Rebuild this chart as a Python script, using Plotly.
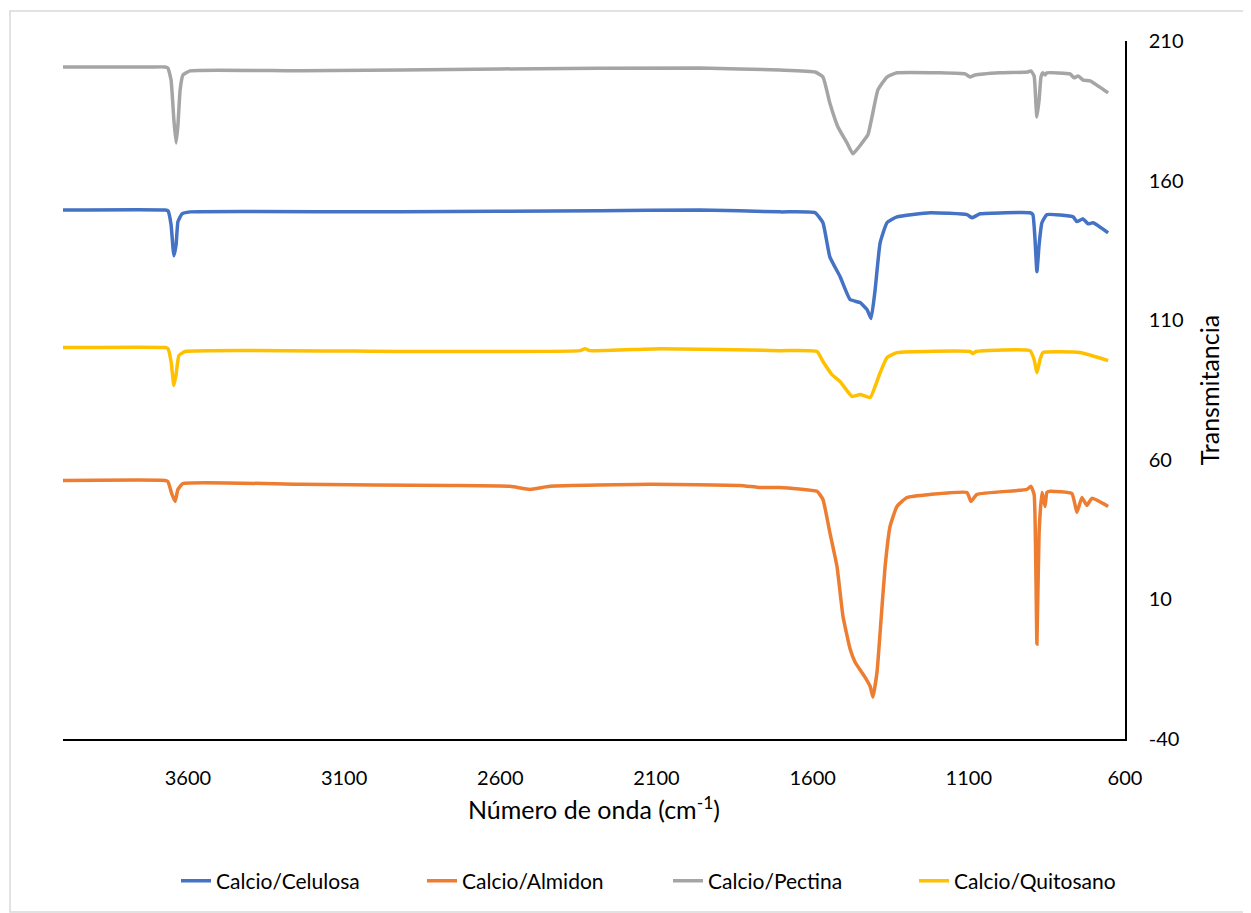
import plotly.graph_objects as go

# ---- data (wavenumber cm-1, transmittance) ----
pectina_wn = [4000, 3721, 3673, 3664, 3654, 3645, 3638, 3632, 3625, 3616, 3593, 3241, 2601, 1961, 1705,
              1592, 1567, 1545, 1519, 1490, 1471, 1442, 1423, 1410, 1391, 1362, 1330, 1192, 1112, 1096,
              1080, 1000, 911, 901, 891, 885, 882, 875, 869, 863, 856, 850, 776, 763, 750, 734, 712, 654]
pectina_t = [200.7, 200.7, 200.7, 200.3, 196.0, 181.7, 173.5, 180.0, 192.5, 197.8, 199.3, 199.3, 200.0,
             200.3, 199.6, 198.9, 197.1, 187.8, 179.2, 173.5, 169.6, 173.5, 176.4, 182.8, 192.5, 197.1,
             198.6, 198.6, 198.2, 197.1, 197.8, 198.6, 198.9, 199.3, 197.5, 187.1, 182.8, 188.9, 197.1,
             198.6, 197.8, 198.6, 198.2, 196.8, 197.5, 196.0, 195.7, 191.4]

celulosa_wn = [4000, 3673, 3664, 3654, 3648, 3645, 3638, 3632, 3619, 3593, 2921, 2281, 1961, 1705, 1592,
               1567, 1545, 1512, 1480, 1448, 1426, 1413, 1400, 1384, 1362, 1330, 1224, 1106, 1090, 1064,
               904, 895, 888, 882, 875, 866, 850, 766, 754, 734, 718, 702, 654]
celulosa_t = [149.5, 149.5, 149.2, 144.2, 136.0, 133.1, 137.0, 145.3, 148.1, 148.8, 148.8, 149.2, 149.5,
              148.8, 148.5, 144.9, 132.7, 125.6, 117.4, 116.3, 113.8, 110.6, 120.9, 137.7, 144.9, 147.0,
              148.5, 147.8, 146.7, 148.1, 148.5, 147.8, 138.8, 127.4, 137.0, 144.9, 147.8, 147.0, 145.3,
              146.3, 144.5, 144.9, 141.3]

quitosano_wn = [4000, 3673, 3664, 3654, 3645, 3638, 3629, 3609, 2921, 2345, 2329, 2313, 2089, 1705, 1586,
                1567, 1538, 1512, 1474, 1448, 1416, 1384, 1362, 1330, 1096, 1087, 1077, 904, 891, 882,
                872, 863, 744, 654]
quitosano_t = [100.2, 100.2, 99.8, 95.2, 86.6, 90.5, 97.3, 98.8, 98.8, 99.1, 99.8, 99.1, 99.8, 99.1, 98.8,
               95.2, 90.5, 88.0, 82.7, 83.4, 82.3, 91.2, 96.6, 98.4, 98.8, 98.0, 98.8, 99.1, 95.9, 91.2,
               95.9, 98.4, 98.4, 95.5]

almidon_wn = [4000, 3673, 3664, 3651, 3641, 3632, 3616, 3241, 2761, 2569, 2505, 2441, 2121, 1833, 1769,
              1705, 1586, 1567, 1545, 1522, 1503, 1480, 1464, 1432, 1416, 1407, 1394, 1384, 1368, 1352,
              1330, 1298, 1224, 1106, 1093, 1074, 914, 901, 891, 885, 882, 875, 866, 856, 850, 840, 770,
              754, 738, 722, 706, 654]
almidon_t = [52.6, 52.6, 52.2, 47.6, 45.1, 49.4, 51.5, 51.2, 50.8, 50.5, 49.4, 50.5, 51.2, 50.8, 50.1,
             50.1, 48.7, 45.8, 34.0, 21.8, 4.0, -7.8, -12.5, -17.9, -21.1, -25.0, -16.1, -1.8, 21.8, 36.2,
             43.3, 46.5, 47.6, 48.3, 45.1, 47.6, 49.4, 50.5, 47.6, 17.2, -6.0, 34.0, 48.3, 43.3, 48.3,
             48.7, 47.9, 41.2, 46.5, 43.7, 46.2, 43.3]

series_names = ["Calcio/Celulosa", "Calcio/Almidon", "Calcio/Pectina", "Calcio/Quitosano"]
series_x = [celulosa_wn, almidon_wn, pectina_wn, quitosano_wn]
series_y = [celulosa_t, almidon_t, pectina_t, quitosano_t]
series_colors = ["#4472C4", "#ED7D31", "#A5A5A5", "#FFC000"]

x_ticks = [3600, 3100, 2600, 2100, 1600, 1100, 600]
y_ticks = [210, 160, 110, 60, 10, -40]
y_ticktext = ["210", "160", "110", "60", "10", "-40"]

FONT = "Lato"
W, H = 1243, 905          # page body has an 8px margin
L, R, T, B = 55, 126, 33, 174
PW, PH = W - L - R, H - T - B

fig = go.Figure()
for name, wn, t, col in zip(series_names, series_x, series_y, series_colors):
    fig.add_trace(go.Scatter(x=wn, y=t, mode="lines", name=name,
                             line=dict(color=col, width=3.5, shape="spline", smoothing=0.4)))

fig.update_layout(
    width=W, height=H,
    margin=dict(l=L, r=R, t=T, b=B),
    paper_bgcolor="white", plot_bgcolor="white",
    font=dict(family=FONT, size=20, color="#000000"),
    showlegend=True,
    legend=dict(orientation="h", x=(668 - 8 - L) / PW, xanchor="center",
                y=-142 / PH, yanchor="middle",
                font=dict(family=FONT, size=21, color="#000000"),
                entrywidth=201, entrywidthmode="pixels"),
    xaxis=dict(range=[4000, 600], autorange=False, tickmode="array", tickvals=x_ticks,
               ticktext=[str(v) for v in x_ticks], showgrid=False, zeroline=False,
               showline=True, linecolor="#000000", linewidth=1.5, ticks="",
               ticklabelstandoff=20, tickfont=dict(size=20),
               title=dict(text="Número de onda (cm<sup>-1</sup>)", standoff=14,
                          font=dict(family=FONT, size=25))),
    yaxis=dict(range=[-40, 210], autorange=False, side="right", tickmode="array", tickvals=y_ticks,
               ticktext=y_ticktext, tickfont=dict(size=20),
               showgrid=False, zeroline=False, showline=True, linecolor="#000000", linewidth=1.5,
               ticks="", ticklabelstandoff=18,
               title=dict(text="Transmitancia", standoff=19, font=dict(family=FONT, size=25))),
    shapes=[dict(type="rect", xref="paper", yref="paper",
                 x0=(10 - 8 - L) / PW, x1=(1250 - 8 - L) / PW,
                 y0=-(912 - 8 - (T + PH)) / PH, y1=1 + (T - (11 - 8)) / PH,
                 line=dict(color="#D9D9D9", width=1.5), fillcolor="rgba(0,0,0,0)", layer="below")],
)

fig.write_html("out.html")
